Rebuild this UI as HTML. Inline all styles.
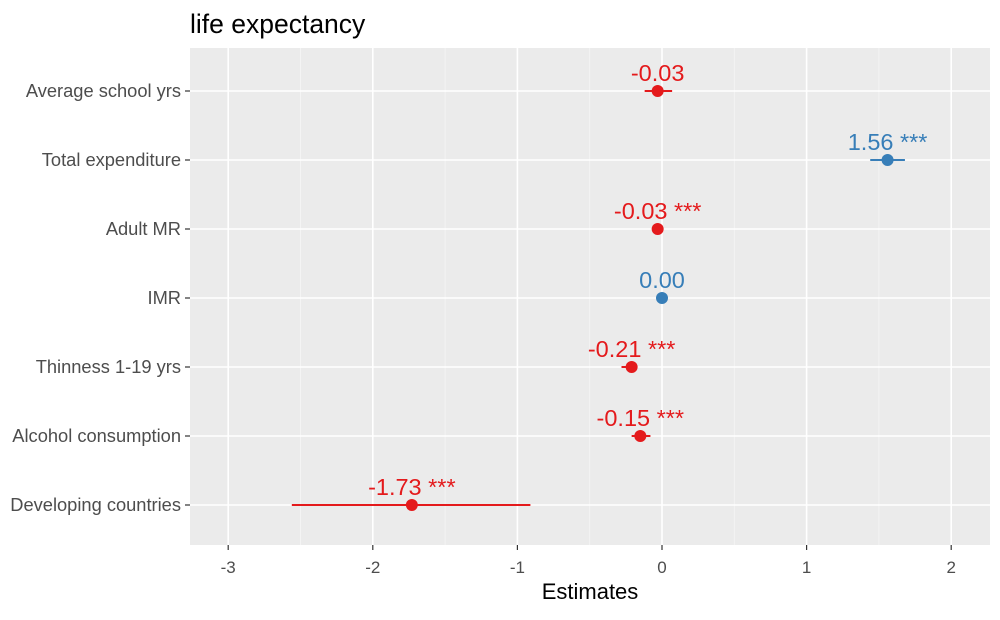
<!DOCTYPE html>
<html><head><meta charset="utf-8"><style>
body{margin:0;background:#fff;font-family:"Liberation Sans",sans-serif;}
</style></head><body>
<svg id="chart" width="1000" height="615" xmlns="http://www.w3.org/2000/svg">
<rect x="0" y="0" width="1000" height="615" fill="#fff"/>
<text x="190" y="33" font-size="26.5" fill="#000">life expectancy</text>
<rect id="panel" x="190" y="48" width="800" height="497" fill="#ebebeb"/>
<g id="grid"></g><g id="marks"></g><g id="axes"></g>
<text x="590" y="599" font-size="22" text-anchor="middle" fill="#000">Estimates</text>
</svg>
<script>
const terms=["Average school yrs","Total expenditure","Adult MR","IMR","Thinness 1-19 yrs","Alcohol consumption","Developing countries"];
const estimates=[-0.03,1.56,-0.03,0.00,-0.21,-0.15,-1.73];
const lower=[-0.12,1.44,-0.05,-0.01,-0.28,-0.21,-2.56];
const upper=[0.07,1.68,-0.01,0.01,-0.17,-0.08,-0.91];
const labels=["-0.03","1.56 ***","-0.03 ***","0.00","-0.21 ***","-0.15 ***","-1.73 ***"];
const xTicks=[-3,-2,-1,0,1,2];
const NS="http://www.w3.org/2000/svg";
const X=v=>662+v*144.6;
const Y=i=>91+i*69;
function mk(p,tag,a){const e=document.createElementNS(NS,tag);for(const k in a)e.setAttribute(k,a[k]);p.appendChild(e);return e;}
const grid=document.getElementById('grid'),marks=document.getElementById('marks'),axes=document.getElementById('axes');
xTicks.forEach((t,i)=>{
 if(i<xTicks.length-1){const m=mk(grid,'line',{x1:X(t+0.5),x2:X(t+0.5),y1:48,y2:545,stroke:'#f6f6f6','stroke-width':0.8});
 
 }
 const g=mk(grid,'line',{x1:X(t),x2:X(t),y1:48,y2:545,stroke:'#fff','stroke-width':1.6});
 
 
 const tk=mk(axes,'line',{x1:X(t),x2:X(t),y1:545,y2:550,stroke:'#333','stroke-width':1.2});
 
 
 const tl=mk(axes,'text',{x:X(t),y:573,'font-size':17,'text-anchor':'middle',fill:'#4d4d4d'});
 tl.textContent=t;
 
 
});
terms.forEach((n,i)=>{
 const y=Y(i);
 const g=mk(grid,'line',{x1:190,x2:990,y1:y,y2:y,stroke:'#fff','stroke-width':1.6});
 
 
 const tk=mk(axes,'line',{x1:185,x2:190,y1:y,y2:y,stroke:'#333','stroke-width':1.2});
 
 
 const tl=mk(axes,'text',{x:181,y:y+6,'font-size':18.3,'text-anchor':'end',fill:'#4d4d4d'});
 tl.textContent=n;
 
 
 const c=estimates[i]>=0?'#377eb8':'#e41a1c';
 const l=mk(marks,'line',{x1:X(lower[i]),x2:X(upper[i]),y1:y,y2:y,stroke:c,'stroke-width':2});
 
 
 const p=mk(marks,'circle',{cx:X(estimates[i]),cy:y,r:6,fill:c});
 
 
 const t=mk(marks,'text',{x:X(estimates[i]),y:y-10,'font-size':23.5,'text-anchor':'middle',fill:c});
 t.textContent=labels[i];
 
 
});
</script>
</body></html>
